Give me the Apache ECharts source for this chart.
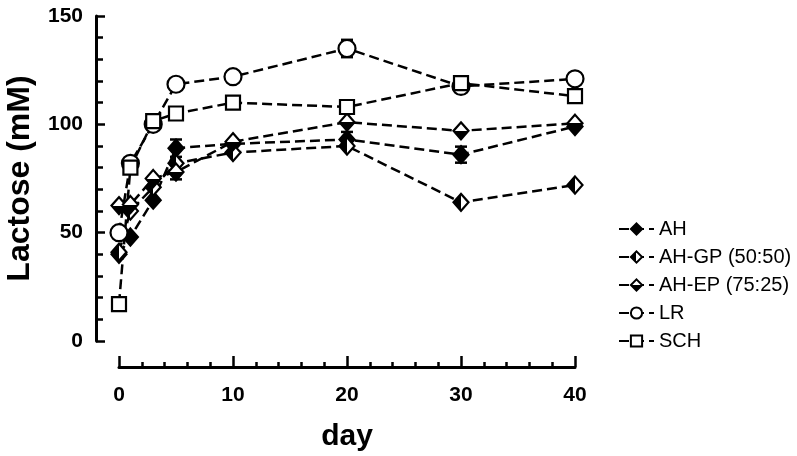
<!DOCTYPE html>
<html><head><meta charset="utf-8">
<script src="https://cdn.jsdelivr.net/npm/echarts@6/dist/echarts.min.js"></script>
<style>html,body{margin:0;padding:0;background:#fff}#c{width:797px;height:456px}</style>
</head><body><div id="c"></div>
<script>
const days = [0, 1, 3, 5, 10, 20, 30, 40];
const seriesNames = ['AH', 'AH-GP (50:50)', 'AH-EP (75:25)', 'LR', 'SCH'];
const ah   = [40, 48, 65, 89, 91, 93, 86, 99];
const ahgp = [41, 60, 71, 82, 87, 90, 64, 72];
const ahep = [62.5, 63, 75, 78, 92, 101, 97, 100.5];
const lr   = [50, 82, 100, 118.5, 122, 135, 117.5, 121];
const sch  = [17, 80, 101.5, 105, 110, 108, 119, 113];
const ahErr   = [0, 0, 0, 4, 0, 3.5, 3.7, 0];
const ahepErr = [0, 0, 0, 3.4, 0, 0, 0, 0];
const lrErr   = [0, 0, 0, 0, 0, 4, 0, 0];
const yTicks = [0, 50, 100, 150];
const xTicks = [0, 10, 20, 30, 40];

const FONT = 'Liberation Sans, Arial, sans-serif';
const chart = echarts.init(document.getElementById('c'), null, {renderer: 'canvas'});

function hardGrad(horizontal, first, second) {
  return new echarts.graphic.LinearGradient(0, 0, horizontal ? 1 : 0, horizontal ? 0 : 1, [
    {offset: 0, color: first}, {offset: 0.5, color: first},
    {offset: 0.5, color: second}, {offset: 1, color: second}
  ]);
}

const dash = [10, 5];
function lineSeries(name, vals, symbol, size, fill) {
  return {
    type: 'line', name: name,
    data: days.map((d, i) => [d, vals[i]]),
    symbol: symbol, symbolSize: size, showAllSymbol: true,
    lineStyle: {color: '#000', width: 2.5, type: dash},
    itemStyle: {color: fill, borderColor: '#000', borderWidth: 2.2},
    emphasis: {disabled: true}, z: 3
  };
}
function errSeries(vals, errs) {
  return {
    type: 'custom', z: 2, silent: true,
    data: days.map((d, i) => [d, vals[i], errs[i]]).filter(r => r[2] > 0),
    renderItem: function (params, api) {
      const x = api.value(0), y = api.value(1), e = api.value(2);
      const top = api.coord([x, y + e]);
      const bot = api.coord([x, y - e]);
      const st = {stroke: '#000', lineWidth: 2.5};
      return {type: 'group', children: [
        {type: 'line', shape: {x1: top[0], y1: top[1], x2: bot[0], y2: bot[1]}, style: st},
        {type: 'line', shape: {x1: top[0] - 6, y1: top[1], x2: top[0] + 6, y2: top[1]}, style: st},
        {type: 'line', shape: {x1: bot[0] - 6, y1: bot[1], x2: bot[0] + 6, y2: bot[1]}, style: st}
      ]};
    }
  };
}

const axisLabel = {color: '#000', fontFamily: FONT, fontWeight: 'bold', fontSize: 21};
chart.setOption({
  animation: false,
  backgroundColor: '#fff',
  grid: {left: 119, right: 222, top: 16, bottom: 115, containLabel: false, outerBoundsMode: 'none'},
  legend: {
    orient: 'vertical', left: 613, top: 214,
    itemWidth: 35, itemHeight: 14, itemGap: 8,
    data: seriesNames,
    textStyle: {color: '#000', fontFamily: FONT, fontSize: 20},
    inactiveColor: '#000'
  },
  xAxis: {
    type: 'value', min: 0, max: 40, interval: 10, offset: 26,
    name: 'day', nameLocation: 'middle', nameGap: 55,
    nameTextStyle: {color: '#000', fontFamily: FONT, fontWeight: 'bold', fontSize: 30},
    axisLine: {show: true, onZero: false, lineStyle: {color: '#000', width: 3}},
    axisTick: {show: true, inside: true, length: 11, lineStyle: {color: '#000', width: 2.5}},
    minorTick: {show: true, splitNumber: 5, length: 5, lineStyle: {color: '#000', width: 2.5}},
    splitLine: {show: false},
    axisLabel: Object.assign({margin: 18, formatter: v => xTicks.includes(v) ? String(v) : ''}, axisLabel)
  },
  yAxis: {
    type: 'value', min: 0, max: 150, interval: 50, offset: 23,
    name: 'Lactose (mM)', nameLocation: 'middle', nameGap: 60,
    nameTextStyle: {color: '#000', fontFamily: FONT, fontWeight: 'bold', fontSize: 32},
    axisLine: {show: true, onZero: false, lineStyle: {color: '#000', width: 3}},
    axisTick: {show: true, inside: true, length: 9, lineStyle: {color: '#000', width: 2.5}},
    minorTick: {show: true, splitNumber: 5, length: 7, lineStyle: {color: '#000', width: 2.5}},
    splitLine: {show: false},
    axisLabel: Object.assign({margin: 13, formatter: v => yTicks.includes(v) ? String(v) : ''}, axisLabel)
  },
  series: [
    errSeries(ah, ahErr),
    errSeries(ahep, ahepErr),
    errSeries(lr, lrErr),
    lineSeries(seriesNames[0], ah, 'diamond', [15, 17], '#000'),
    lineSeries(seriesNames[1], ahgp, 'diamond', [15, 17], hardGrad(true, '#000', '#fff')),
    lineSeries(seriesNames[2], ahep, 'diamond', [15, 17], hardGrad(false, '#fff', '#000')),
    lineSeries(seriesNames[3], lr, 'circle', 17, '#fff'),
    lineSeries(seriesNames[4], sch, 'rect', 14, '#fff')
  ]
});
</script></body></html>
